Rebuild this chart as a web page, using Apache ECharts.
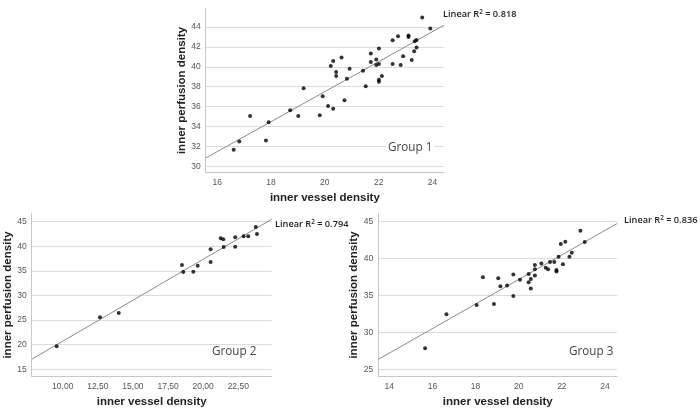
<!DOCTYPE html>
<html><head><meta charset="utf-8">
<script src="https://cdn.jsdelivr.net/npm/echarts@6/dist/echarts.min.js"></script>
<style>html,body{margin:0;padding:0;background:#fff}#c{width:700px;height:416px}</style>
</head><body><div id="c"></div>
<script>
// ---- Group 1 ----
const g1X = [16.61,16.82,17.22,17.81,17.91,18.71,19.01,19.21,19.81,19.92,20.12,20.22,20.31,20.31,20.42,20.42,20.62,20.73,20.82,20.92,21.42,21.52,21.71,21.71,21.91,21.91,22.01,22.01,22.01,22.01,22.12,22.52,22.52,22.72,22.82,22.91,23.11,23.11,23.23,23.32,23.34,23.41,23.41,23.62,23.92];
const g1Y = [31.67,32.5,35.05,32.6,34.44,35.64,35.05,37.84,35.14,37.04,36.07,40.08,40.58,35.8,39.47,39.08,40.94,36.63,38.8,39.8,39.6,38.04,41.34,40.47,40.74,40.17,41.84,40.27,38.7,38.5,39.07,42.67,40.27,43.07,40.17,41.07,43.14,43.0,40.67,41.57,42.57,42.7,41.94,44.94,43.84];
const fit1X = [15.57, 24.43];
const fit1Y = [30.84, 44.17];
const g1XTicks = [16,18,20,22,24];
const g1YTicks = [30,32,34,36,38,40,42,44];
const g1R2 = '0.818';

// ---- Group 2 ----
const g2X = [9.57,12.65,13.99,18.49,18.58,19.3,19.61,20.53,20.53,21.25,21.43,21.46,22.28,22.28,22.88,23.21,23.74,23.83];
const g2Y = [19.67,25.57,26.44,36.2,34.78,34.84,36.06,39.39,36.81,41.63,41.42,39.86,41.83,39.92,42.03,42.03,43.92,42.5];
const fit2X = [7.79, 24.88];
const fit2Y = [17.03, 45.49];
const g2XTicks = [10,12.5,15,17.5,20,22.5];
const g2YTicks = [15,20,25,30,35,40,45];
const g2R2 = '0.794';

// ---- Group 3 ----
const g3X = [15.66,16.65,18.05,18.34,18.85,19.05,19.15,19.46,19.75,19.75,20.06,20.46,20.46,20.56,20.56,20.75,20.75,20.75,21.05,21.25,21.36,21.45,21.65,21.75,21.75,21.85,21.95,22.05,22.16,22.35,22.46,22.86,23.06];
const g3Y = [27.85,32.45,33.73,37.47,33.85,37.35,36.27,36.35,37.85,34.93,37.12,37.91,36.79,37.24,35.95,39.13,38.55,37.71,39.33,38.77,38.55,39.54,39.54,38.45,38.24,40.26,41.98,39.23,42.29,40.26,40.78,43.78,42.25];
const fit3X = [13.49, 24.57];
const fit3Y = [26.35, 44.77];
const g3XTicks = [14,16,18,20,22,24];
const g3YTicks = [25,30,35,40,45];
const g3R2 = '0.836';

const xTitle = 'inner vessel density';
const yTitle = 'inner perfusion density';
const groupNames = ['Group 1','Group 2','Group 3'];

const zip = (a,b) => a.map((v,i)=>[v,b[i]]);
const tickFont = {fontFamily:'Liberation Sans, Arial, sans-serif', fontSize:8.5, color:'#555'};
const titleFont = {fontFamily:'Liberation Sans, Arial, sans-serif', fontSize:11.5, fontWeight:'bold', color:'#222'};

function xAxis(gi, min, max, ticks, fmt){
  return {type:'value', gridIndex:gi, min, max,
    name:xTitle, nameLocation:'middle', nameGap:19, nameTextStyle:titleFont,
    axisLine:{show:true, lineStyle:{color:'#c8c8c8', width:1}},
    axisTick:{show:false, customValues:ticks},
    axisLabel:Object.assign({customValues:ticks, margin:5, formatter:fmt, showMinLabel:true, showMaxLabel:true}, tickFont),
    splitLine:{show:false}};
}
function yAxis(gi, min, max, ticks){
  return {type:'value', gridIndex:gi, min, max,
    name:yTitle, nameLocation:'middle', nameGap:17, nameTextStyle:titleFont,
    axisLine:{show:true, lineStyle:{color:'#c8c8c8', width:1}},
    axisTick:{show:false, customValues:ticks},
    axisLabel:Object.assign({customValues:ticks, margin:5}, tickFont),
    splitLine:{show:true, lineStyle:{color:'#dcdcdc', width:1}}};
}
function scatter(i, x, y){
  return {type:'scatter', xAxisIndex:i, yAxisIndex:i, data:zip(x,y), symbolSize:4,
    itemStyle:{color:'#000'}, silent:true, z:3};
}
function fit(i, x, y){
  return {type:'line', xAxisIndex:i, yAxisIndex:i, data:zip(x,y), showSymbol:false, symbol:'none',
    lineStyle:{color:'#8a8a8a', width:1}, silent:true, z:2, animation:false};
}
const commaFmt = v => v.toFixed(2).replace('.', ',');
const plainFmt = v => String(v);

const r2Style = {fontFamily:'Open Sans, sans-serif', fontSize:9.2, fontWeight:600, fill:'#222'};
function r2Text(x, y, val){
  return {type:'text', left:x, top:y, silent:true, z:10,
    style:Object.assign({text:'Linear R{s|2} = ' + val,
      rich:{s:{fontFamily:'Open Sans, sans-serif', fontSize:6.3, fontWeight:600, fill:'#222', verticalAlign:'top', padding:[0,0,5,0]}}}, r2Style)};
}
function groupText(x, y, t){
  return {type:'text', left:x, top:y, silent:true, z:10,
    style:{text:t, fontFamily:'Open Sans, sans-serif', fontSize:11.7, fill:'#444',
      backgroundColor:'#fff', padding:[0,2,0,2]}};
}

const chart = echarts.init(document.getElementById('c'), null, {renderer:'canvas'});
chart.setOption({
  animation:false,
  backgroundColor:'#fff',
  grid:[
    {left:205.7, top:8.3, width:238.3, height:164.4},
    {left:31.7, top:213.3, width:240, height:163.4},
    {left:378.3, top:213.3, width:239, height:163.4}
  ],
  xAxis:[
    xAxis(0, 15.57, 24.43, g1XTicks, plainFmt),
    xAxis(1, 7.79, 24.88, g2XTicks, commaFmt),
    xAxis(2, 13.49, 24.57, g3XTicks, plainFmt)
  ],
  yAxis:[
    yAxis(0, 29.37, 45.87, g1YTicks),
    yAxis(1, 13.5, 46.7, g2YTicks),
    yAxis(2, 24.0, 46.14, g3YTicks)
  ],
  series:[
    fit(0, fit1X, fit1Y), scatter(0, g1X, g1Y),
    fit(1, fit2X, fit2Y), scatter(1, g2X, g2Y),
    fit(2, fit3X, fit3Y), scatter(2, g3X, g3Y)
  ],
  graphic:[
    r2Text(443, 9, g1R2),
    r2Text(275, 219, g2R2),
    r2Text(624, 215, g3R2),
    groupText(386, 142, groupNames[0]),
    groupText(210, 346, groupNames[1]),
    groupText(567, 346, groupNames[2])
  ]
});
</script>
</body></html>
